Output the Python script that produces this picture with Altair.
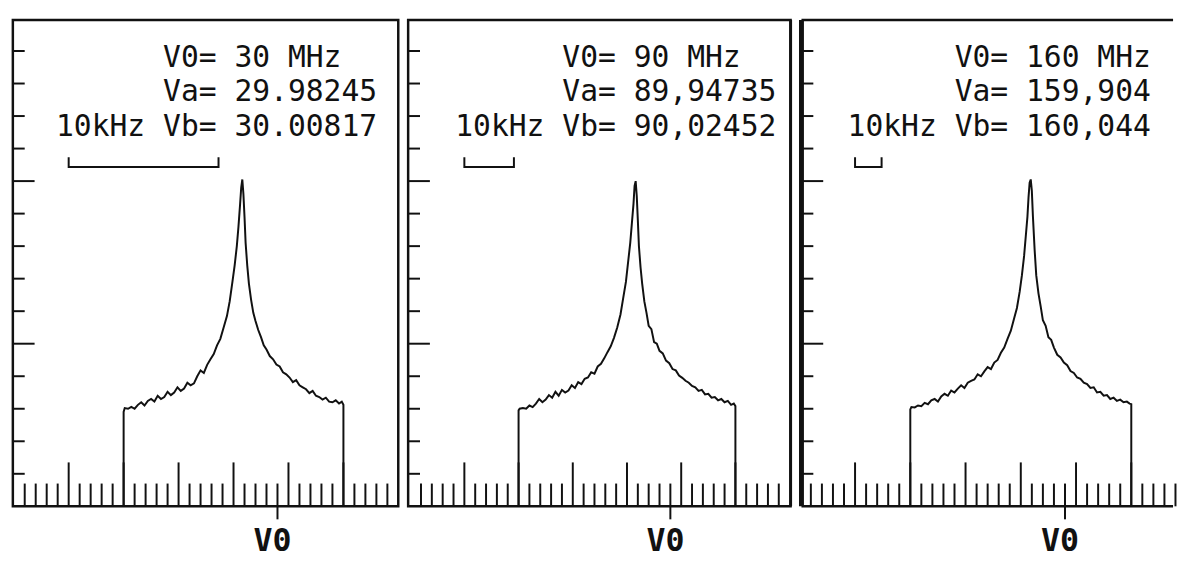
import altair as alt
import pandas as pd

# ---------------- data ----------------
V0_MHZ = [30, 90, 160]
VA_MHZ = [29.98245, 89.94735, 159.904]
VB_MHZ = [30.00817, 90.02452, 160.044]
V0_TEXT = ["30", "90", "160"]
VA_TEXT = ["29.98245", "89,94735", "159,904"]
VB_TEXT = ["30.00817", "90,02452", "160,044"]
SCALE_BAR_KHZ = 10

# spectrum trace, in screen divisions (x) and vertical divisions (y)
X_DIV = [10.0, 10.0, 10.1, 10.4, 10.7, 11.0, 11.3, 11.6, 11.9, 12.2, 12.5, 12.8, 13.1, 13.4,
         13.7, 14.0, 14.3, 14.6, 14.9, 15.2, 15.5, 15.8, 16.1, 16.4, 16.7, 17.0, 17.3, 17.6,
         17.9, 18.2, 18.5, 18.8, 19.1, 19.4, 19.65, 19.9, 20.1, 20.3, 20.45, 20.6, 20.7, 20.8,
         20.9, 21.0, 21.1, 21.25, 21.4, 21.6, 21.8, 22.0, 22.25, 22.5, 22.75, 23.0, 23.3, 23.6,
         23.9, 24.2, 24.5, 24.8, 25.1, 25.4, 25.7, 26.0, 26.3, 26.6, 26.9, 27.2, 27.5, 27.8,
         28.1, 28.4, 28.7, 29.0, 29.3, 29.6, 29.85, 30.0, 30.0]
Y_DIV_30 = [0, 2.9, 3.02, 3.0, 3.06, 3.0, 3.12, 3.2, 3.1, 3.24, 3.3, 3.22, 3.4, 3.3,
            3.36, 3.52, 3.42, 3.5, 3.66, 3.55, 3.62, 3.8, 3.72, 3.78, 4.0, 4.18, 4.1, 4.35,
            4.52, 4.68, 4.95, 5.15, 5.5, 5.85, 6.3, 6.9, 7.4, 8.0, 8.6, 9.3, 9.8, 10.05,
            9.6, 8.9, 8.1, 7.4, 6.85, 6.35, 5.95, 5.7, 5.42, 5.2, 4.95, 4.82, 4.62, 4.52,
            4.36, 4.3, 4.12, 4.06, 3.96, 3.82, 3.88, 3.72, 3.66, 3.6, 3.48, 3.55, 3.4, 3.36,
            3.28, 3.34, 3.22, 3.2, 3.26, 3.16, 3.22, 3.12, 0]
Y_DIV_90 = [0, 2.95, 3.0, 3.02, 3.0, 3.1, 3.05, 3.16, 3.3, 3.2, 3.28, 3.42, 3.34, 3.52,
            3.4, 3.58, 3.5, 3.56, 3.72, 3.64, 3.82, 3.76, 3.92, 3.96, 4.12, 4.08, 4.3, 4.38,
            4.55, 4.74, 4.92, 5.18, 5.5, 5.9, 6.4, 6.9, 7.5, 8.1, 8.7, 9.3, 9.85, 10.0,
            9.55, 8.8, 8.0, 7.35, 6.85, 6.3, 5.95, 5.55, 5.45, 5.05, 5.0, 4.78, 4.7, 4.48,
            4.4, 4.22, 4.18, 4.02, 3.95, 3.86, 3.8, 3.7, 3.66, 3.55, 3.58, 3.44, 3.46, 3.34,
            3.36, 3.26, 3.3, 3.2, 3.24, 3.12, 3.16, 3.08, 0]
Y_DIV_160 = [0, 2.98, 3.05, 3.04, 3.1, 3.08, 3.18, 3.14, 3.26, 3.3, 3.22, 3.38, 3.46, 3.4,
             3.56, 3.5, 3.62, 3.72, 3.64, 3.8, 3.86, 3.9, 4.06, 4.0, 4.15, 4.28, 4.22, 4.42,
             4.5, 4.72, 4.88, 5.15, 5.4, 5.78, 6.1, 6.6, 7.1, 7.7, 8.3, 8.9, 9.5, 9.95,
             10.05, 9.7, 8.9, 7.9, 7.1, 6.55, 6.15, 5.72, 5.55, 5.2, 5.12, 4.88, 4.66, 4.58,
             4.42, 4.34, 4.16, 4.1, 3.96, 3.92, 3.8, 3.76, 3.64, 3.66, 3.5, 3.52, 3.4, 3.42,
             3.3, 3.34, 3.24, 3.28, 3.2, 3.22, 3.16, 3.14, 0]
Y_DIVS = [Y_DIV_30, Y_DIV_90, Y_DIV_160]

# graticule
BOTTOM_TICKS = list(range(1, 35))
LEFT_TICKS = list(range(1, 15))
MAJOR_EVERY = 5
V0_TICK = 24
BAR_START_DIV = 5

# ---------------- layout / style ----------------
PANEL_W = [390, 387, 376]
X_DOMAINS = [(-0.08, 34.99), (-0.185, 35.09), (0.15, 33.78)]
HEIGHT = 492
Y_DOMAIN = (0, 14.95)
TEXT_X = [152, 156, 155]
FONT = "DejaVu Sans Mono"
FS = 30
ADV = FS * 0.602
INK = "#111111"


def panel(i):
    xs = alt.Scale(domain=list(X_DOMAINS[i]), nice=False, zero=False)
    ys = alt.Scale(domain=list(Y_DOMAIN), nice=False, zero=False)
    one = pd.DataFrame({"k": [0]})

    bt = pd.DataFrame({"pos": BOTTOM_TICKS})
    bt["base"] = 0.0
    bt["top"] = [1.35 if p % MAJOR_EVERY == 0 else 0.7 for p in BOTTOM_TICKS]
    bottom = alt.Chart(bt).mark_rule(color=INK, strokeWidth=2).encode(
        x=alt.X("pos:Q", scale=xs, axis=None),
        y=alt.Y("base:Q", scale=ys, axis=None),
        y2="top:Q",
    )

    lt_minor = pd.DataFrame({"pos": [p for p in LEFT_TICKS if p % MAJOR_EVERY]})
    lt_major = pd.DataFrame({"pos": [p for p in LEFT_TICKS if p % MAJOR_EVERY == 0]})
    left_minor = alt.Chart(lt_minor).mark_rule(color=INK, strokeWidth=2).encode(
        y=alt.Y("pos:Q", scale=ys, axis=None), x=alt.value(0), x2=alt.value(12))
    left_major = alt.Chart(lt_major).mark_rule(color=INK, strokeWidth=2).encode(
        y=alt.Y("pos:Q", scale=ys, axis=None), x=alt.value(0), x2=alt.value(22))

    v0df = pd.DataFrame({"pos": [V0_TICK], "a": [0.0], "b": [-0.4], "lab": ["V0"]})
    v0mark = alt.Chart(v0df).mark_rule(color=INK, strokeWidth=2).encode(
        x=alt.X("pos:Q", scale=xs, axis=None),
        y=alt.Y("a:Q", scale=ys, axis=None), y2="b:Q")
    v0lab = alt.Chart(v0df).mark_text(font=FONT, fontWeight="bold", fontSize=32,
                                      color=INK, baseline="alphabetic", align="center",
                                      dx=-5).encode(
        x=alt.X("pos:Q", scale=xs, axis=None), y=alt.value(HEIGHT + 45), text="lab:N")

    sp = pd.DataFrame({"x": X_DIV, "y": Y_DIVS[i], "o": list(range(len(X_DIV)))})
    spec = alt.Chart(sp).mark_line(color=INK, strokeWidth=2).encode(
        x=alt.X("x:Q", scale=xs, axis=None),
        y=alt.Y("y:Q", scale=ys, axis=None), order="o:Q")

    span_khz = (VB_MHZ[i] - VA_MHZ[i]) * 1000.0
    bar_w = SCALE_BAR_KHZ / span_khz * (X_DOMAINS[i][1] - X_DOMAINS[i][0])
    br = pd.DataFrame({
        "x": [BAR_START_DIV, BAR_START_DIV, BAR_START_DIV + bar_w, BAR_START_DIV + bar_w],
        "y": [10.73, 10.43, 10.43, 10.73], "o": [0, 1, 2, 3]})
    bracket = alt.Chart(br).mark_line(color=INK, strokeWidth=2).encode(
        x=alt.X("x:Q", scale=xs, axis=None),
        y=alt.Y("y:Q", scale=ys, axis=None), order="o:Q")

    rows = pd.DataFrame({
        "t": [f"V0= {V0_TEXT[i]} MHz", f"Va= {VA_TEXT[i]}", f"Vb= {VB_TEXT[i]}"],
        "yy": [47, 82, 117]})
    txt = alt.Chart(rows).mark_text(font=FONT, fontSize=FS, color=INK, align="left",
                                    baseline="alphabetic").encode(
        x=alt.value(TEXT_X[i]), y=alt.Y("yy:Q", scale=None), text="t:N")
    khz = alt.Chart(pd.DataFrame({"t": [f"{SCALE_BAR_KHZ}kHz"]})).mark_text(
        font=FONT, fontSize=FS, color=INK, align="right", baseline="alphabetic").encode(
        x=alt.value(TEXT_X[i] - ADV), y=alt.value(117), text="t:N")

    layers = [bottom, left_minor, left_major, v0mark, v0lab, spec, bracket, txt, khz]
    W = PANEL_W[i]
    if i == 1:
        layers.append(alt.Chart(one).mark_rule(color=INK, strokeWidth=3).encode(
            x=alt.value(W), y=alt.value(0), y2=alt.value(HEIGHT)))
    if i == 2:
        layers.append(alt.Chart(one).mark_rule(color=INK, strokeWidth=2.5).encode(
            x=alt.value(0), x2=alt.value(W), y=alt.value(0)))
        layers.append(alt.Chart(one).mark_rule(color=INK, strokeWidth=2.5).encode(
            x=alt.value(0), x2=alt.value(W), y=alt.value(HEIGHT)))
        layers.append(alt.Chart(one).mark_rule(color=INK, strokeWidth=5).encode(
            x=alt.value(0), y=alt.value(0), y2=alt.value(HEIGHT)))
        return alt.layer(*layers, view=alt.ViewBackground(strokeOpacity=0)).properties(
            width=W, height=HEIGHT)
    return alt.layer(*layers).properties(width=W, height=HEIGHT)


chart = alt.hconcat(panel(0), panel(1), panel(2), spacing=5).properties(
    padding={"left": 10, "top": 14, "right": 0, "bottom": 0},
    background="white",
).configure_view(stroke=INK, strokeWidth=2.5)

chart.save("out.html", embed_options={"renderer": "svg", "actions": False})
